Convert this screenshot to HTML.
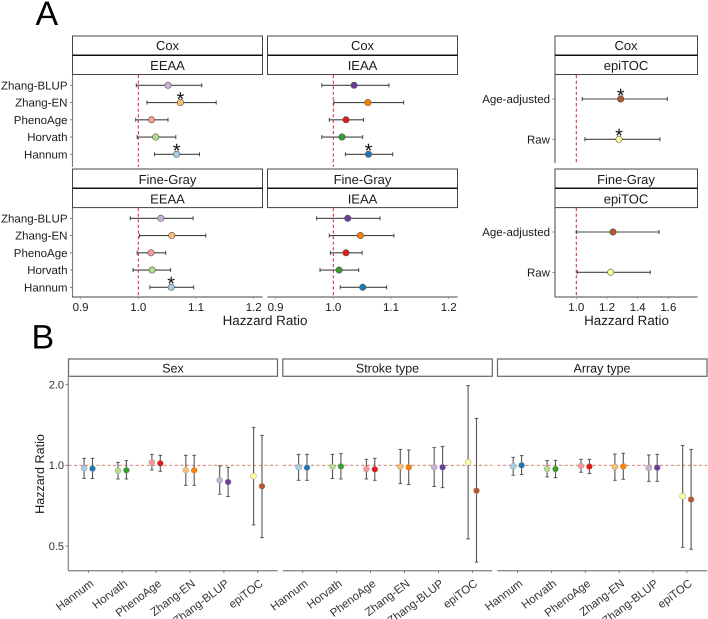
<!DOCTYPE html>
<html lang="en">
<head>
<meta charset="utf-8">
<title>Hazard ratio forest plots</title>
<style>
html,body{margin:0;padding:0;background:#fff;width:708px;height:619px;overflow:hidden}
svg{display:block;font-family:"Liberation Sans",sans-serif;text-rendering:geometricPrecision}
.strip{fill:#fff;stroke:#444;stroke-width:1}
.mid{stroke:#111;stroke-width:1.5}
.stripb{fill:#fff;stroke:#666;stroke-width:1.2}
.st{font-size:13px;fill:#1a1a1a;text-anchor:middle}
.stb{font-size:12.5px;fill:#1a1a1a;text-anchor:middle}
.ax{font-size:13.4px;fill:#1a1a1a;text-anchor:middle}
</style>
</head>
<body>
<svg id="chart" xmlns="http://www.w3.org/2000/svg" width="708" height="619" viewBox="0 0 708 619">
  <rect x="0" y="0" width="708" height="619" fill="#fff"/>
  <text x="35.5" y="25" font-size="34" fill="#000">A</text>
  <text x="31.5" y="348.5" font-size="34" fill="#000">B</text>

  <g>
    <rect class="strip" x="72.5" y="36" width="190" height="38.5"/><line class="mid" x1="72.5" x2="262.5" y1="55.2" y2="55.2"/>
    <text class="st" x="167.5" y="50">Cox</text><text class="st" x="167.5" y="70">EEAA</text>
  </g>
  <g>
    <rect class="strip" x="267.5" y="36" width="190" height="38.5"/><line class="mid" x1="267.5" x2="457.5" y1="55.2" y2="55.2"/>
    <text class="st" x="362.5" y="50">Cox</text><text class="st" x="362.5" y="70">IEAA</text>
  </g>
  <g>
    <rect class="strip" x="555" y="36" width="142.5" height="38.5"/><line class="mid" x1="555" x2="697.5" y1="55.2" y2="55.2"/>
    <text class="st" x="626" y="50">Cox</text><text class="st" x="626" y="70">epiTOC</text>
  </g>
  <g>
    <rect class="strip" x="72.5" y="169" width="190" height="38.6"/><line class="mid" x1="72.5" x2="262.5" y1="188.3" y2="188.3"/>
    <text class="st" x="167.5" y="184">Fine-Gray</text><text class="st" x="167.5" y="203.5">EEAA</text>
  </g>
  <g>
    <rect class="strip" x="267.5" y="169" width="190" height="38.6"/><line class="mid" x1="267.5" x2="457.5" y1="188.3" y2="188.3"/>
    <text class="st" x="362.5" y="184">Fine-Gray</text><text class="st" x="362.5" y="203.5">IEAA</text>
  </g>
  <g>
    <rect class="strip" x="555" y="169" width="142.5" height="38.6"/><line class="mid" x1="555" x2="697.5" y1="188.3" y2="188.3"/>
    <text class="st" x="626" y="184">Fine-Gray</text><text class="st" x="626" y="203.5">epiTOC</text>
  </g>
  <text class="ax" x="265" y="325">Hazzard Ratio</text>
  <text class="ax" x="626.5" y="325">Hazzard Ratio</text>

  <g>
    <rect class="stripb" x="68.5" y="359" width="209" height="17.3"/><text class="stb" x="173" y="372.6">Sex</text>
  </g>
  <g>
    <rect class="stripb" x="282.8" y="359" width="209.5" height="17.3"/><text class="stb" x="387.5" y="372.6">Stroke type</text>
  </g>
  <g>
    <rect class="stripb" x="497.5" y="359" width="209.5" height="17.3"/><text class="stb" x="602" y="372.6">Array type</text>
  </g>
  <text font-size="12.6" fill="#1a1a1a" text-anchor="middle" transform="translate(44 474) rotate(-90)">Hazzard Ratio</text>
  <g id="marks"></g>
</svg>
<script>
// ---- Panel A data (top row to bottom row) ----
const ageModels = ['Zhang-BLUP', 'Zhang-EN', 'PhenoAge', 'Horvath', 'Hannum'];
const epiModels = ['Age-adjusted', 'Raw'];
const eeaaColors = ['#cab2d6', '#fdbf6f', '#fb9a99', '#b2df8a', '#a6cee3'];
const ieaaColors = ['#6a3d9a', '#ff7f00', '#e31a1c', '#33a02c', '#1f78b4'];
const epiColors = ['#b15928', '#ffff99'];

const coxEeaaLow = [0.9965, 1.015, 0.9955, 0.998, 1.028];
const coxEeaaHr = [1.0515, 1.073, 1.023, 1.03, 1.0665];
const coxEeaaHigh = [1.11, 1.135, 1.0515, 1.065, 1.106];
const coxEeaaSig = [0, 1, 0, 0, 1];

const fgEeaaLow = [0.986, 1.002, 0.998, 0.991, 1.02];
const fgEeaaHr = [1.039, 1.058, 1.022, 1.024, 1.057];
const fgEeaaHigh = [1.095, 1.117, 1.0475, 1.056, 1.096];
const fgEeaaSig = [0, 0, 0, 0, 1];

const coxIeaaLow = [0.98, 1.001, 0.993, 0.98, 1.021];
const coxIeaaHr = [1.036, 1.06, 1.022, 1.015, 1.061];
const coxIeaaHigh = [1.0965, 1.122, 1.0525, 1.051, 1.103];
const coxIeaaSig = [0, 0, 0, 0, 1];

const fgIeaaLow = [0.971, 0.993, 0.995, 0.977, 1.012];
const fgIeaaHr = [1.025, 1.047, 1.022, 1.01, 1.051];
const fgIeaaHigh = [1.081, 1.105, 1.05, 1.044, 1.0925];
const fgIeaaSig = [0, 0, 0, 0, 0];

const coxEpiLow = [1.039, 1.056];
const coxEpiHr = [1.289, 1.278];
const coxEpiHigh = [1.593, 1.545];
const coxEpiSig = [1, 1];

const fgEpiLow = [1.0, 1.006];
const fgEpiHr = [1.239, 1.224];
const fgEpiHigh = [1.539, 1.482];
const fgEpiSig = [0, 0];

const ageTicks = [0.9, 1.0, 1.1, 1.2];
const epiTicks = [1.0, 1.2, 1.4, 1.6];

// ---- Panel B data (light / dark pair per clock) ----
const clockNames = ['Hannum', 'Horvath', 'PhenoAge', 'Zhang-EN', 'Zhang-BLUP', 'epiTOC'];
const pairedColors = ['#a6cee3', '#1f78b4', '#b2df8a', '#33a02c', '#fb9a99', '#e31a1c', '#fdbf6f', '#ff7f00', '#cab2d6', '#6a3d9a', '#ffff99', '#b15928'];
const hrTicks = [2.0, 1.0, 0.5];

const sexLow = [0.894, 0.892, 0.889, 0.889, 0.961, 0.95, 0.842, 0.842, 0.78, 0.764, 0.599, 0.537];
const sexHr = [0.975, 0.972, 0.955, 0.958, 1.026, 1.017, 0.958, 0.958, 0.879, 0.866, 0.91, 0.835];
const sexHigh = [1.062, 1.062, 1.026, 1.041, 1.099, 1.09, 1.09, 1.09, 0.994, 0.983, 1.386, 1.294];

const strokeLow = [0.879, 0.879, 0.892, 0.889, 0.889, 0.879, 0.854, 0.847, 0.833, 0.825, 0.531, 0.435];
const strokeHr = [0.983, 0.98, 0.989, 0.991, 0.969, 0.966, 0.989, 0.983, 0.983, 0.983, 1.026, 0.804];
const strokeHigh = [1.099, 1.099, 1.099, 1.105, 1.053, 1.062, 1.147, 1.141, 1.164, 1.177, 1.983, 1.497];

const arrayLow = [0.918, 0.923, 0.905, 0.899, 0.942, 0.931, 0.879, 0.887, 0.871, 0.871, 0.494, 0.486];
const arrayHr = [0.991, 1.0, 0.969, 0.969, 0.994, 0.989, 0.986, 0.991, 0.977, 0.98, 0.766, 0.745];
const arrayHigh = [1.071, 1.087, 1.041, 1.044, 1.053, 1.053, 1.102, 1.109, 1.093, 1.099, 1.187, 1.147];

// ---- Axis functions ----
function xEeaa(v) { return 138.3 + (v - 1) * 577; }
function xIeaa(v) { return 333.3 + (v - 1) * 577; }
function xEpi(v) { return 576.3 + (v - 1) * 153.5; }
function rowAge(i, top) { return top + 10.3 + i * 17.25; }
function rowEpi(i, top) { return top + 24 + i * 40.3; }
function yHr(v) { return 465.3 - Math.log2(v) * 80.65; }
function xClock(i, left) { return left + 20 + i * 33.9; }

const NS = 'http://www.w3.org/2000/svg';
const root = document.getElementById('marks');
function mk(tag, attrs, parent) {
  const el = document.createElementNS(NS, tag);
  for (const k in attrs) el.setAttribute(k, attrs[k]);
  (parent || root).appendChild(el);
  return el;
}
function seg(x1, y1, x2, y2, color, w, parent) {
  return mk('line', { x1: x1, y1: y1, x2: x2, y2: y2, stroke: color, 'stroke-width': w }, parent);
}

function drawForest(name, low, hr, high, sig, xFn, yFn, top, colors) {
  const g = mk('g', {});
  
  
  hr.forEach(function (v, i) {
    const y = yFn(i, top);
    const whisker = seg(xFn(low[i]), y, xFn(high[i]), y, '#444', 1.1, g);
    
    
    const capLow = seg(xFn(low[i]), y - 2, xFn(low[i]), y + 2, '#444', 1, g);
    
    
    const capHigh = seg(xFn(high[i]), y - 2, xFn(high[i]), y + 2, '#444', 1, g);
    
    
    const dot = mk('circle', { cx: xFn(v), cy: y, r: 3.2, fill: colors[i], stroke: '#555', 'stroke-width': 0.6 }, g);
    
    
    if (sig[i]) {
      const star = mk('text', { x: xFn(v), y: y + 3.4, 'font-size': 20, 'text-anchor': 'middle', fill: '#111' }, g);
      star.textContent = '*';
      
      
    }
  });
}

function refLineV(name, x, y1, y2) {
  const l = mk('line', { x1: x, y1: y1, x2: x, y2: y2, stroke: '#d8232a', 'stroke-width': 1, 'stroke-dasharray': '3.2 2.4' });
  
  
}

function yLabels(name, labels, yFn, top, axisX) {
  labels.forEach(function (s, i) {
    const y = yFn(i, top);
    const t = mk('text', { x: axisX - 5, y: y + 4.1, 'font-size': 11.5, 'text-anchor': 'end', fill: '#1a1a1a' });
    t.textContent = s;
    
    
    const tk = seg(axisX - 2.5, y, axisX, y, '#666', 0.8);
    
    
  });
}

function xLabels(name, ticks, xFn, y) {
  ticks.forEach(function (v) {
    const t = mk('text', { x: xFn(v), y: y, 'font-size': 11.5, 'text-anchor': 'middle', fill: '#1a1a1a' });
    t.textContent = v.toFixed(1);
    
    
    const tk = seg(xFn(v), 297, xFn(v), 299, '#777', 0.6);
    
    
  });
}

// Reference lines first so points sit above them
refLineV('reference-line-cox-eeaa', xEeaa(1), 75, 167);
refLineV('reference-line-fg-eeaa', xEeaa(1), 208, 297);
refLineV('reference-line-cox-ieaa', xIeaa(1), 75, 167);
refLineV('reference-line-fg-ieaa', xIeaa(1), 208, 297);
refLineV('reference-line-cox-epitoc', xEpi(1), 75, 163);
refLineV('reference-line-fg-epitoc', xEpi(1), 208, 297);

// Panel A axis lines
const axisCoxLeft = seg(72.5, 75, 72.5, 167, '#777', 1.1);


const axisFgLeft = seg(72.5, 208, 72.5, 297, '#777', 1.1);


const axisEpiCox = seg(555, 75, 555, 163, '#444', 1);


const axisEpiFg = seg(555, 208, 555, 297, '#444', 1);


const axisBotEeaa = seg(72, 297, 262.5, 297, '#444', 1);


const axisBotIeaa = seg(267.5, 297, 457.5, 297, '#444', 1);


const axisBotEpi = seg(555, 297, 697.5, 297, '#444', 1);



yLabels('cox-model', ageModels, rowAge, 75, 72.5);
yLabels('finegray-model', ageModels, rowAge, 208, 72.5);
yLabels('cox-epitoc-model', epiModels, rowEpi, 75, 555);
yLabels('finegray-epitoc-model', epiModels, rowEpi, 208, 555);
xLabels('x-eeaa', ageTicks, xEeaa, 311);
xLabels('x-ieaa', ageTicks, xIeaa, 311);
xLabels('x-epitoc', epiTicks, xEpi, 311);

drawForest('cox-eeaa', coxEeaaLow, coxEeaaHr, coxEeaaHigh, coxEeaaSig, xEeaa, rowAge, 75, eeaaColors);
drawForest('finegray-eeaa', fgEeaaLow, fgEeaaHr, fgEeaaHigh, fgEeaaSig, xEeaa, rowAge, 208, eeaaColors);
drawForest('cox-ieaa', coxIeaaLow, coxIeaaHr, coxIeaaHigh, coxIeaaSig, xIeaa, rowAge, 75, ieaaColors);
drawForest('finegray-ieaa', fgIeaaLow, fgIeaaHr, fgIeaaHigh, fgIeaaSig, xIeaa, rowAge, 208, ieaaColors);
drawForest('cox-epitoc', coxEpiLow, coxEpiHr, coxEpiHigh, coxEpiSig, xEpi, rowEpi, 75, epiColors);
drawForest('finegray-epitoc', fgEpiLow, fgEpiHr, fgEpiHigh, fgEpiSig, xEpi, rowEpi, 208, epiColors);

// Panel B
function drawFacet(name, left, right, low, hr, high) {
  const g = mk('g', {});
  
  
  const ref = mk('line', { x1: left, y1: yHr(1), x2: right, y2: yHr(1), stroke: '#d0705f', 'stroke-width': 0.9, 'stroke-dasharray': '3.2 2.4' }, g);
  
  
  const base = seg(left, 570.7, right, 570.7, '#8a8a8a', 1.3, g);
  
  
  clockNames.forEach(function (s, c) {
    const tx = xClock(c, left);
    const tk = seg(tx, 571, tx, 573.2, '#666', 0.8, g);
    
    
    const lab = mk('text', { 'font-size': 11.5, 'text-anchor': 'end', fill: '#333', transform: 'translate(' + (tx + 6) + ' 585) rotate(-37)' }, g);
    lab.textContent = s;
    
    
  });
  hr.forEach(function (v, i) {
    const c = Math.floor(i / 2);
    const x = xClock(c, left) + (i % 2 === 0 ? -4.2 : 4.2);
    const bar = seg(x, yHr(low[i]), x, yHr(high[i]), '#555', 1.1, g);
    
    
    const capLow = seg(x - 1.8, yHr(low[i]), x + 1.8, yHr(low[i]), '#4a4a4a', 0.9, g);
    
    
    const capHigh = seg(x - 1.8, yHr(high[i]), x + 1.8, yHr(high[i]), '#4a4a4a', 0.9, g);
    
    
    const dot = mk('circle', { cx: x, cy: yHr(v), r: 3, fill: pairedColors[i], stroke: '#999', 'stroke-width': 0.5 }, g);
    
    
  });
}
drawFacet('sex', 68.3, 277.7, sexLow, sexHr, sexHigh);
drawFacet('stroke-type', 282.8, 492.3, strokeLow, strokeHr, strokeHigh);
drawFacet('array-type', 497.4, 707.3, arrayLow, arrayHr, arrayHigh);

const axisB = seg(68.3, 376, 68.3, 571, '#8a8a8a', 1.3);


hrTicks.forEach(function (v) {
  const tk = seg(65.5, yHr(v), 68, yHr(v), '#666', 0.8);
  
  
  const t = mk('text', { x: 64, y: yHr(v) + 3.9, 'font-size': 11, 'text-anchor': 'end', fill: '#333' });
  t.textContent = v.toFixed(1);
  
  
});
</script>
</body>
</html>
